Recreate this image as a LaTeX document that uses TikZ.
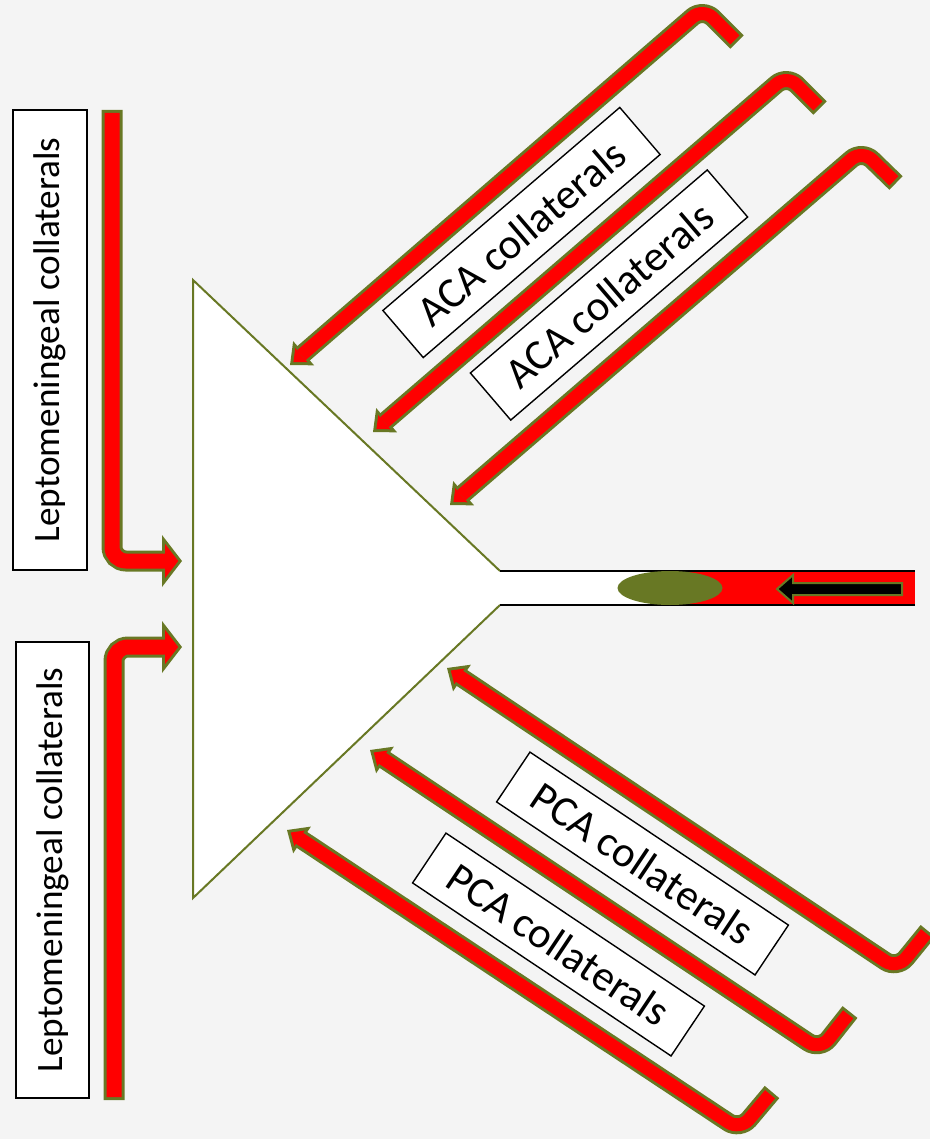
\documentclass[tikz,border=0pt]{standalone}
\usepackage{fontspec}
\setmainfont{Carlito}
\usetikzlibrary{calc}

\definecolor{olivegreen}{RGB}{104,120,36}
\definecolor{arteryred}{RGB}{255,0,0}
\definecolor{paper}{RGB}{244,244,244}

\tikzset{
  labelbox/.style={draw=black, fill=white, line width=0.7pt, inner sep=0pt},
  leptotext/.style={font=\fontsize{18.6}{20}\selectfont},
  acatext/.style={font=\fontsize{21.5}{24}\selectfont},
}

% hook end, bend, tip, shaft width, head length, head half width (in pt)
\newcommand{\collateral}[6]{%
  \pgfmathsetmacro{\inw}{#4-3}
  \pgfmathsetmacro{\tipback}{1.5*veclen(#5,#6)/#6}
  \pgfmathsetmacro{\baseback}{#5-1.5}
  \pgfmathsetmacro{\innerhw}{(#5-1.5-\tipback)*#6/#5}
  \coordinate (ob) at ($(#3)!#5pt!(#2)$);
  \coordinate (ib) at ($(#3)!\baseback pt!(#2)$);
  \coordinate (it) at ($(#3)!\tipback pt!(#2)$);
  \draw[olivegreen, line width=#4pt, rounded corners=7pt] (#1) -- (#2) -- (ib);
  \fill[olivegreen] (#3) -- ($(ob)!#6pt!90:(#3)$) -- ($(ob)!#6pt!-90:(#3)$) -- cycle;
  \draw[arteryred, line width=\inw pt, rounded corners=7pt, shorten <=1.5pt] (#1) -- (#2) -- (ib);
  \fill[arteryred] (it) -- ($(ib)!\innerhw pt!90:(#3)$) -- ($(ib)!\innerhw pt!-90:(#3)$) -- cycle;
}

\begin{document}
\begin{tikzpicture}[x=0.5pt, y=-0.5pt]
  \fill[paper] (0,0) rectangle (930,1139);
  \useasboundingbox (0,0) rectangle (930,1139);

  % territory and occluded vessel
  \filldraw[fill=white, draw=olivegreen, line width=1pt] (500,571) -- (193,280) -- (193,898) -- (500,605);
  \fill[white] (500,571) rectangle (915,605);
  \fill[arteryred] (670,571) rectangle (915,605);
  \draw[line width=1pt] (500,571) -- (915,571) (500,605) -- (915,605);
  \fill[olivegreen] (670,588) ellipse [x radius=26.25pt, y radius=8.5pt];
  \filldraw[fill=black, draw=olivegreen, line width=1pt] (777,589) -- (793,575) -- (793,583) -- (902,583)
    -- (902,595) -- (793,595) -- (793,603) -- cycle;

  \coordinate (lep1e) at (112,110);  \coordinate (lep1c) at (112,561);  \coordinate (lep1t) at (182,561);
  \coordinate (lep2e) at (114,1100); \coordinate (lep2c) at (114,647);  \coordinate (lep2t) at (182,647);
  \coordinate (aca1e) at (737,42);   \coordinate (aca1c) at (703,8);    \coordinate (aca1t) at (290,365);
  \coordinate (aca2e) at (820,108);  \coordinate (aca2c) at (787,75);   \coordinate (aca2t) at (373,432);
  \coordinate (aca3e) at (896,183);  \coordinate (aca3c) at (862,150);  \coordinate (aca3t) at (450,505);
  \coordinate (pca1e) at (928,931);  \coordinate (pca1c) at (897,969);  \coordinate (pca1t) at (447,668);
  \coordinate (pca2e) at (850,1012); \coordinate (pca2c) at (820,1050); \coordinate (pca2t) at (370,750);
  \coordinate (pca3e) at (772,1092); \coordinate (pca3c) at (740,1130); \coordinate (pca3t) at (287,830);

  \collateral{lep1e}{lep1c}{lep1t}{10.5}{10}{13}
  \collateral{lep2e}{lep2c}{lep2t}{10.5}{10}{13}
  \collateral{aca1e}{aca1c}{aca1t}{9.5}{9}{8}
  \collateral{aca2e}{aca2c}{aca2t}{9.5}{9}{8}
  \collateral{aca3e}{aca3c}{aca3t}{9.5}{9}{8}
  \collateral{pca1e}{pca1c}{pca1t}{9.5}{9}{8}
  \collateral{pca2e}{pca2c}{pca2t}{9.5}{9}{8}
  \collateral{pca3e}{pca3c}{pca3t}{9.5}{9}{8}

  \node[labelbox, leptotext, rotate=90, minimum width=230pt, minimum height=37pt] (lep1label) at (50,340) {Leptomeningeal collaterals};
  \node[labelbox, leptotext, rotate=90, minimum width=228pt, minimum height=36.5pt] (lep2label) at (52.5,870) {Leptomeningeal collaterals};
  \node[labelbox, acatext, rotate=40.6, minimum width=156pt, minimum height=31pt] (aca1label) at (521.5,232.5) {ACA collaterals};
  \node[labelbox, acatext, rotate=40.6, minimum width=156pt, minimum height=31pt] (aca2label) at (609,295) {ACA collaterals};
  \node[labelbox, acatext, rotate=-33.8, minimum width=155.5pt, minimum height=30pt] (pca1label) at (642.5,863.5) {PCA collaterals};
  \node[labelbox, acatext, rotate=-33.8, minimum width=155.5pt, minimum height=30pt] (pca2label) at (558.5,944.5) {PCA collaterals};
\end{tikzpicture}
\end{document}
